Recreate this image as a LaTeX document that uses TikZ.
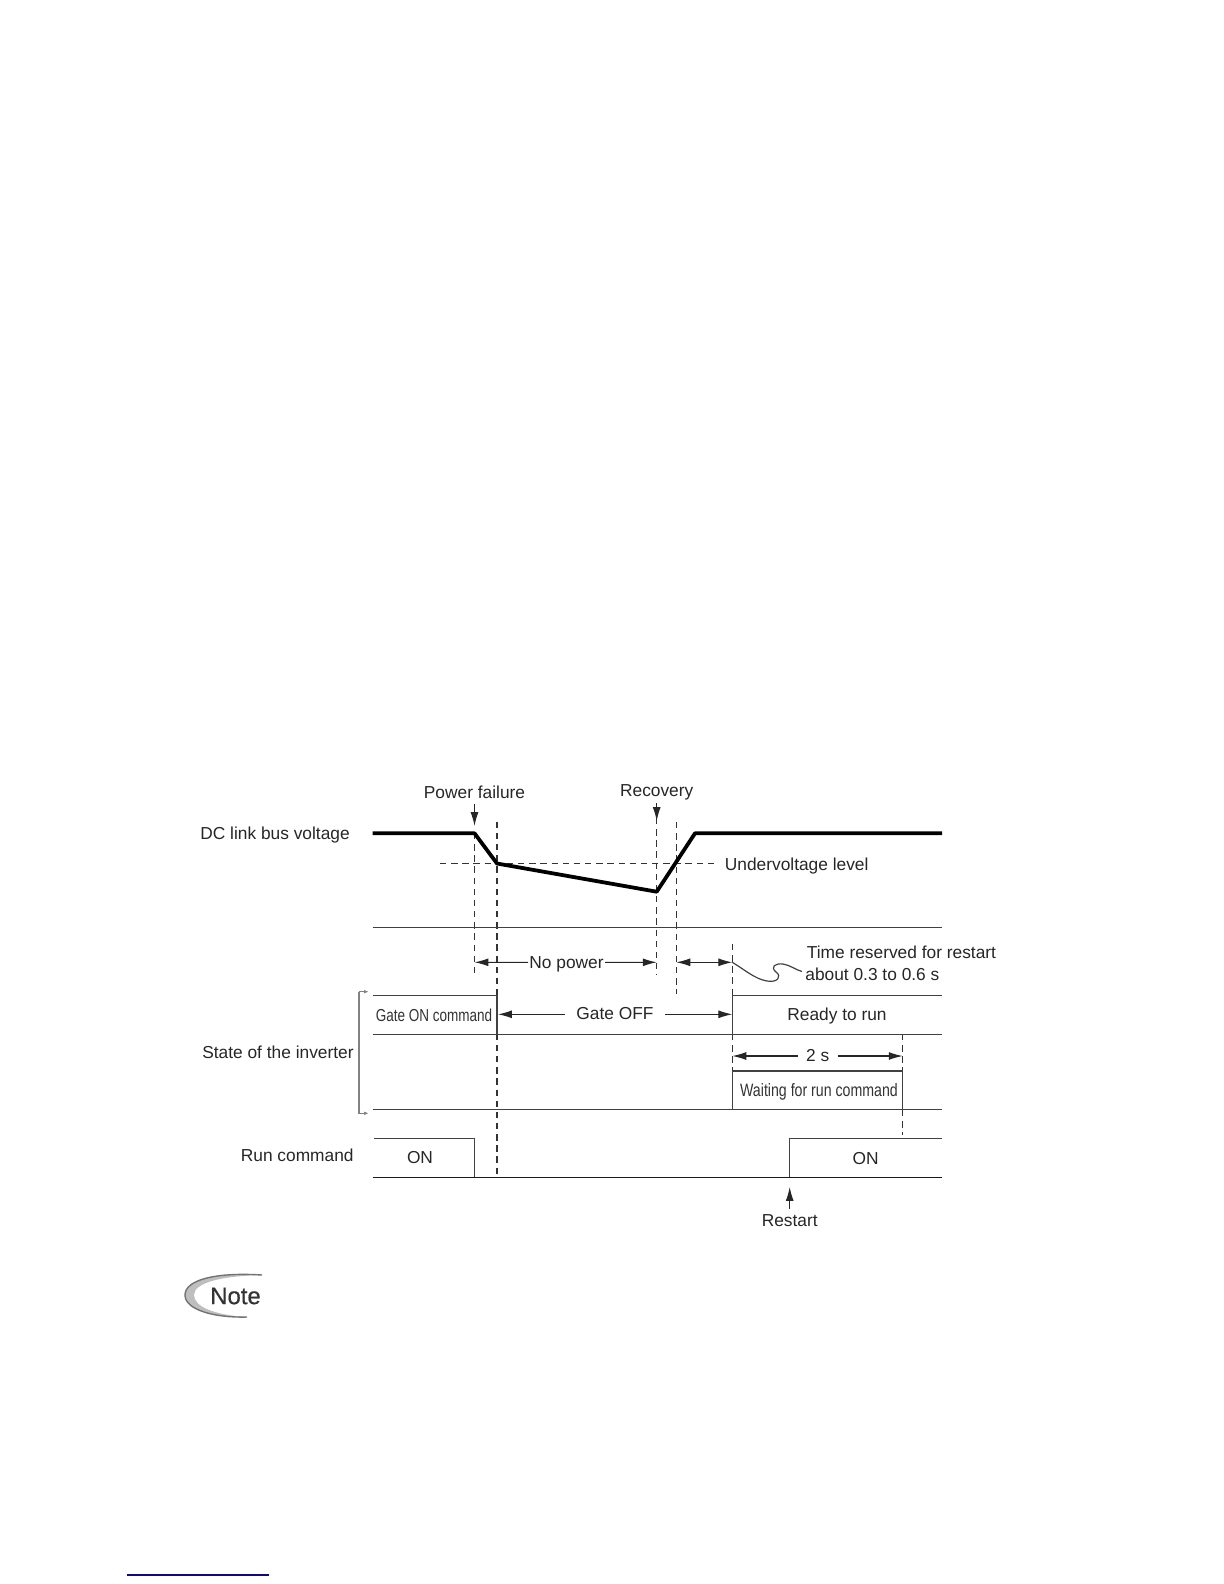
\documentclass[tikz,border=0pt]{standalone}
\usepackage{fontspec}
\setmainfont{Liberation Sans}
\newfontfamily\condfont[FakeStretch=0.78]{Liberation Sans}
\newfontfamily\waitfont[FakeStretch=0.79]{Liberation Sans}
\newfontfamily\notefont[FakeBold=0.4]{Liberation Sans}
\usetikzlibrary{arrows.meta,calc,positioning}
\definecolor{tracegray}{RGB}{65,65,65}
\definecolor{bracketgray}{RGB}{130,130,130}
\definecolor{notegray}{RGB}{190,190,190}
\definecolor{noteedge}{RGB}{115,115,115}
\definecolor{rulenavy}{RGB}{10,10,130}
\tikzset{
  lbl/.style={inner sep=0pt, text=black!85, font=\fontsize{8.7}{10}\selectfont},
  condlbl/.style={inner sep=0pt, text=black!80, font=\fontsize{8.7}{10}\selectfont\condfont},
  trace/.style={tracegray, line width=0.75pt},
  thicktrace/.style={black, line width=1.9pt, line join=round},
  guide/.style={black!80, line width=0.7pt, dash pattern=on 3.2pt off 2.4pt},
  dimarrow/.style={black!85, line width=0.55pt, -{Latex[length=7pt,width=4pt]}},
}

\begin{document}
\begin{tikzpicture}[x=0.5bp,y=-0.5bp]
\useasboundingbox (0,0) rectangle (1224,1584);

% ── Time marks (pixel coordinates of the page) ───────────────────────────────
\pgfmathsetmacro{\xL}{372.7}    % left end of traces
\pgfmathsetmacro{\xR}{942}      % right end of traces
\pgfmathsetmacro{\tFail}{474.5}
\pgfmathsetmacro{\tOff}{497}
\pgfmathsetmacro{\tRec}{656.7}
\pgfmathsetmacro{\tUv}{676.3}
\pgfmathsetmacro{\tRdy}{732.3}
\pgfmathsetmacro{\tRun}{789.7}
\pgfmathsetmacro{\tEnd}{902.7}

% ── Labels ───────────────────────────────────────────────────────────────────
\node[lbl, anchor=west] (dclink) at (200,835) {DC link bus voltage};
\node[lbl, anchor=east] (state) at (354,1052) {State of the inverter};
\node[lbl, anchor=east] (runcmd) at (354,1155) {Run command};
\node[lbl] (powerfail) at (\tFail,792.5) {Power failure};
\node[lbl] (recovery) at (\tRec,792) {Recovery};
\node[lbl, anchor=west] (uvlevel) at (724.5,866) {Undervoltage level};
\node[lbl] (nopower) at (566.5,964) {No power};
\node[lbl] (gateoff) at (615,1013.5) {Gate OFF};
\node[lbl, anchor=west] (timeres) at (806.5,952) {Time reserved for restart};
\node[lbl, anchor=west] (about) at (805,974.5) {about 0.3 to 0.6 s};
\node[condlbl] (gateon) at (434,1015.5) {Gate ON command};
\node[lbl] (ready) at (837,1016) {Ready to run};
\node[lbl] (twosec) at (817.7,1056) {2 s};
\node[inner sep=0pt, text=black!80, font=\fontsize{9}{10}\waitfont] (waiting) at (819,1092) {Waiting for run command};
\node[lbl] (onleft) at (420,1157.5) {ON};
\node[lbl] (onright) at (865.7,1159) {ON};
\node[lbl] (restart) at (\tRun,1221) {Restart};

% ── Guides ───────────────────────────────────────────────────────────────────
\draw[guide] (440,863.7) -- (715,863.7);
\draw[guide] (\tFail,833) -- (\tFail,975);
\draw[guide] (\tOff,821.7) -- (\tOff,1177);
\draw[guide] (\tRec,818) -- (\tRec,975);
\draw[guide] (\tUv,822) -- (\tUv,994);
\draw[guide] (\tRdy,944) -- (\tRdy,995);
\draw[guide] (\tRdy,1034) -- (\tRdy,1071);
\draw[guide] (\tEnd,1034) -- (\tEnd,1071);
\draw[guide] (\tEnd,1110) -- (\tEnd,1135);

% ── Traces ───────────────────────────────────────────────────────────────────
\draw[thicktrace] (\xL,833.3) -- (\tFail,833.3) -- (\tOff,863.5) -- (\tRec,891.7)
  -- (695,833.3) -- (\xR,833.3);
\draw[trace] (\xL,927.3) -- (\xR,927.3);
\draw[trace] (\xL,995.3) -- (\tOff,995.3) -- (\tOff,1034.3);
\draw[trace] (\xL,1034.3) -- (\xR,1034.3);
\draw[trace] (\tRdy,1034.3) -- (\tRdy,995.3) -- (\xR,995.3);
\draw[trace] (\tRdy,1109.3) -- (\tRdy,1071) -- (\tEnd,1071) -- (\tEnd,1109.3);
\draw[trace] (\xL,1109.3) -- (\xR,1109.3);
\draw[trace] (374.3,1138.3) -- (\tFail,1138.3) -- (\tFail,1177.3);
\draw[trace] (\tRun,1177.3) -- (\tRun,1138.3) -- (\xR,1138.3);
\draw[trace, black!90] (\xL,1177.3) -- (\xR,1177.3);

% Bracket beside the inverter states
\draw[bracketgray, line width=0.6pt, -{Latex[length=2.5pt,width=1.8pt]}]
  (359,991.7) -- (369,991.7);
\draw[bracketgray, line width=0.6pt, -{Latex[length=2.5pt,width=1.8pt]}]
  (359,991.7) -- (359,1113.3) -- (369,1113.3);

% ── Arrows ───────────────────────────────────────────────────────────────────
\coordinate (pfA) at (\tFail,826);
\coordinate (recA) at (\tRec,821);
\coordinate (npL) at (\tFail,962.3);
\coordinate (npR) at (\tRec,962.3);
\coordinate (trL) at (\tUv,962.3);
\coordinate (trR) at (\tRdy,962.3);
\coordinate (goL) at (498,1014.3);
\coordinate (goR) at (\tRdy,1014.3);
\coordinate (tsL) at (\tRdy,1056);
\coordinate (tsR) at (\tEnd,1056);
\coordinate (rsA) at (\tRun,1187);
\draw[dimarrow] ($(powerfail.south)+(0,5)$) -- (pfA);
\draw[dimarrow] ($(recovery.south)+(0,3)$) -- (recA);
\draw[dimarrow] ($(nopower.west)+(-1,-1.7)$) -- (npL);
\draw[dimarrow] ($(nopower.east)+(1,-1.7)$) -- (npR);
\draw[dimarrow, {Latex[length=7pt,width=4pt]}-{Latex[length=7pt,width=4pt]}] (trL) -- (trR);
\draw[dimarrow] ($(gateoff.west)+(-11,0.8)$) -- (goL);
\draw[dimarrow] ($(gateoff.east)+(11,0.8)$) -- (goR);
\draw[dimarrow] ($(twosec.west)+(-8,0)$) -- (tsL);
\draw[dimarrow] ($(twosec.east)+(8,0)$) -- (tsR);
\draw[dimarrow] ($(restart.north)+(0,-6)$) -- (rsA);

% Wavy leader to the restart note
\draw[black!75, line width=0.6pt] (trR) .. controls (745,970) and (755,979) .. (767,981)
  .. controls (778,983) and (782,976) .. (776,972)
  .. controls (770,967) and (775,963) .. (783,964)
  .. controls (790,965) and (796,970) .. ($(about.west)+(-3,-3)$);

% ── Note mark and footnote rule ──────────────────────────────────────────────
\fill[notegray] (262,1275) .. controls (215,1272) and (185,1280) .. (185,1295)
  .. controls (185,1310) and (215,1318) .. (247,1317)
  .. controls (215,1315) and (194,1307) .. (194,1295)
  .. controls (194,1283) and (220,1276) .. (262,1275) -- cycle;
\draw[noteedge, line width=0.7pt] (262,1275) .. controls (215,1272) and (185,1280) .. (185,1295)
  .. controls (185,1310) and (215,1318) .. (247,1317);
\node[inner sep=0pt, text=black!80, font=\fontsize{12}{14}\notefont] (notemark) at (235.5,1296) {Note};
\draw[rulenavy, line width=0.6pt] (126.7,1575) -- (269,1575);

\end{tikzpicture}
\end{document}
